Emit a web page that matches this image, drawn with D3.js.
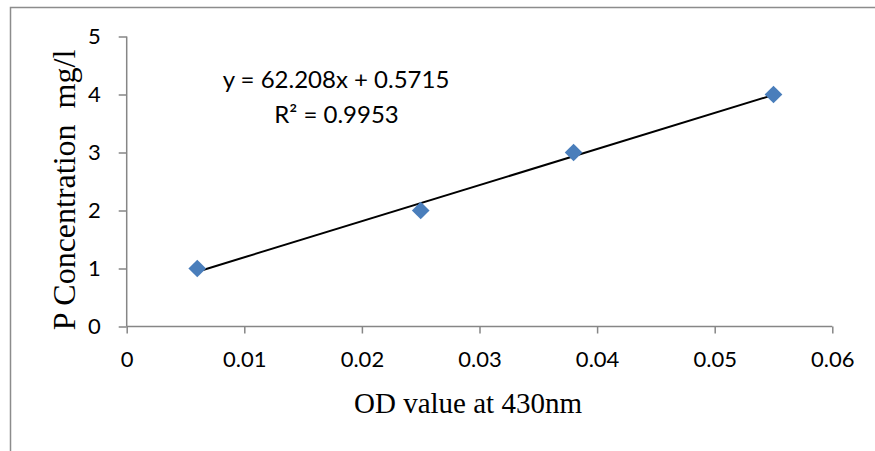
<!DOCTYPE html>
<html><head><meta charset="utf-8">
<script src="https://cdn.jsdelivr.net/npm/d3@7"></script>
<style>
html,body{margin:0;padding:0;background:#fff;}
svg{display:block;}
</style>
</head><body>
<svg id="c" width="875" height="451"></svg>
<script>
// Data
const odValues = [0.006, 0.025, 0.038, 0.055];
const pConcentration = [1, 2, 3, 4];
const xTicks = [0, 0.01, 0.02, 0.03, 0.04, 0.05, 0.06];
const xTickLabels = ["0", "0.01", "0.02", "0.03", "0.04", "0.05", "0.06"];
const yTicks = [0, 1, 2, 3, 4, 5];
const yTickLabels = ["0", "1", "2", "3", "4", "5"];
const slope = 62.208, intercept = 0.5715;
const eqLine1 = "y = 62.208x + 0.5715";
const eqLine2 = "R² = 0.9953";
const xTitle = "OD value at 430nm";
const yTitle = "P Concentration  mg/l";

const svg = d3.select("#c");
const x = d3.scaleLinear().domain([0, 0.06]).range([126.7, 832.3]);
const y = d3.scaleLinear().domain([0, 5]).range([326.5, 36.5]);

// outer frame (top and left)
svg.append("path").attr("d","M10.5,451 V7.5 H875")
  .attr("fill","none").attr("stroke","#8c8c8c").attr("stroke-width",1.5);

const axisColor = "#868686";
const gx = svg.append("g").attr("transform",`translate(0,${y(0)})`)
  .call(d3.axisBottom(x).tickValues(xTicks).tickSize(7).tickPadding(18)
    .tickFormat((d,i) => xTickLabels[i]));
const gy = svg.append("g").attr("transform",`translate(${x(0)},0)`)
  .call(d3.axisLeft(y).tickValues(yTicks).tickSize(8).tickPadding(18)
    .tickFormat((d,i) => yTickLabels[i]));
[gx, gy].forEach(g => {
  g.select(".domain").attr("stroke", axisColor).attr("stroke-width",1.5);
  g.selectAll(".tick line").attr("stroke", axisColor).attr("stroke-width",1.5);
  g.selectAll(".tick text").attr("fill","#000")
    .style("font-family","Lato, 'Open Sans', sans-serif").style("font-size","22px");
});
gx.select(".domain").attr("d", `M${x(0)},0H${x(0.06)}`);
gy.select(".domain").attr("d", `M0,${y(5)}V${y(0)}`);

// trendline
const xr = d3.extent(odValues);
svg.append("line")
  .attr("x1", x(xr[0])).attr("y1", y(slope*xr[0]+intercept))
  .attr("x2", x(xr[1])).attr("y2", y(slope*xr[1]+intercept))
  .attr("stroke","#000").attr("stroke-width",2);

// diamond markers
const pts = odValues.map((v,i)=>({x:v, y:pConcentration[i]}));
svg.selectAll("path.pt").data(pts).join("path").attr("class","pt")
  .attr("d", d3.symbol().type(d3.symbolDiamond2).size(200))
  .attr("transform", d => `translate(${x(d.x)},${y(d.y)})`)
  .attr("fill","#4a7ebb");

// equation
const eq = svg.append("g").style("font-family","Lato, 'Open Sans', sans-serif")
  .style("font-size","24px").attr("text-anchor","middle");
eq.append("text").attr("x",336).attr("y",88).text(eqLine1);
eq.append("text").attr("x",336.5).attr("y",123).text(eqLine2);

// axis titles
svg.append("text").attr("x", 468).attr("y", 413).attr("text-anchor","middle")
  .style("font-family","'Liberation Serif','Times New Roman',serif").style("font-size","29px")
  .text(xTitle);
svg.append("text").attr("transform","translate(75,190) rotate(-90)").attr("text-anchor","middle")
  .style("font-family","'Liberation Serif','Times New Roman',serif").style("font-size","32px")
  .style("white-space","pre")
  .text(yTitle);
</script>
</body></html>
